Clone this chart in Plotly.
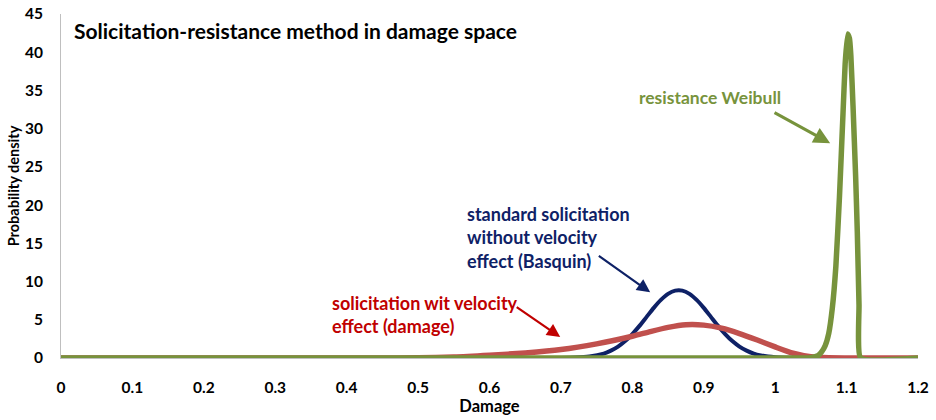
import plotly.graph_objects as go

# Damage axis samples and read-off densities
blue_x = [0.0, 0.68, 0.70, 0.72, 0.74, 0.76, 0.77, 0.78, 0.79, 0.80, 0.81, 0.82, 0.83, 0.84, 0.85,
          0.86, 0.87, 0.88, 0.89, 0.90, 0.91, 0.92, 0.93, 0.94, 0.95, 0.96, 0.97, 0.98, 0.99,
          1.00, 1.02, 1.04, 1.2]
blue_y = [0.0, 0.0, 0.01, 0.05, 0.19, 0.58, 0.96, 1.49, 2.21, 3.13, 4.20, 5.38, 6.56, 7.60, 8.39,
          8.81, 8.81, 8.39, 7.60, 6.56, 5.38, 4.20, 3.13, 2.21, 1.49, 0.96, 0.58, 0.34, 0.19,
          0.10, 0.02, 0.0, 0.0]

red_x = [0.0, 0.45, 0.50, 0.55, 0.60, 0.65, 0.70, 0.75, 0.80, 0.825, 0.85, 0.875, 0.90, 0.925,
         0.95, 0.975, 1.00, 1.025, 1.05, 1.075, 1.10, 1.2]
red_y = [0.0, 0.0, 0.03, 0.12, 0.36, 0.66, 1.1, 1.85, 2.85, 3.45, 4.0, 4.35, 4.3, 3.9,
         3.2, 2.35, 1.45, 0.62, 0.15, 0.02, 0.0, 0.0]

green_x = [0.0, 1.04, 1.05, 1.06, 1.065, 1.07, 1.075, 1.08, 1.085, 1.09, 1.095, 1.098, 1.1015,
           1.104, 1.106, 1.109, 1.1127, 1.115, 1.1174, 1.1197, 1.2]
green_y = [0.0, 0.0, 0.05, 0.3, 0.8, 1.6, 3.2, 6.5, 12.0, 21.0, 32.0, 38.5, 42.4,
           41.8, 39.5, 33.0, 23.7, 16.5, 7.0, 0.0, 0.0]

x_ticks = [0, 0.1, 0.2, 0.3, 0.4, 0.5, 0.6, 0.7, 0.8, 0.9, 1, 1.1, 1.2]
x_tick_text = ["0", "0.1", "0.2", "0.3", "0.4", "0.5", "0.6", "0.7", "0.8", "0.9", "1", "1.1", "1.2"]
y_ticks = [0, 5, 10, 15, 20, 25, 30, 35, 40, 45]

NAVY = "#0E2166"
RED = "#C0504D"
GREEN = "#77933C"
FONT = "Lato"

fig = go.Figure()
fig.add_trace(go.Scatter(x=blue_x, y=blue_y, mode="lines", line=dict(color=NAVY, width=4, shape="spline", smoothing=0.6),
                         name="standard solicitation"))
fig.add_trace(go.Scatter(x=red_x, y=red_y, mode="lines", line=dict(color=RED, width=5.5, shape="spline", smoothing=0.6),
                         name="solicitation with velocity"))
fig.add_trace(go.Scatter(x=green_x, y=green_y, mode="lines", line=dict(color=GREEN, width=5.5, shape="spline", smoothing=0.4),
                         name="resistance Weibull"))

annotations = [
    dict(xref="paper", yref="paper", x=0.0128, y=0.953, xanchor="left", yanchor="middle",
         text="<b>Solicitation-resistance method in damage space</b>", showarrow=False,
         font=dict(family=FONT, size=21, color="#000000")),
    dict(xref="x", yref="y", x=0.806, y=34.1, xanchor="left", yanchor="middle",
         text="<b>resistance Weibull</b>", showarrow=False,
         font=dict(family=FONT, size=17.5, color=GREEN)),
    dict(xref="x", yref="y", x=0.566, y=15.7, xanchor="left", yanchor="middle", align="left",
         text="<b>standard solicitation<br>without velocity<br>effect (Basquin)</b>", showarrow=False,
         font=dict(family=FONT, size=18, color=NAVY)),
    dict(xref="x", yref="y", x=0.377, y=5.7, xanchor="left", yanchor="middle", align="left",
         text="<b>solicitation wit velocity<br>effect (damage)</b>", showarrow=False,
         font=dict(family=FONT, size=18, color="#C00000")),
    # arrows
    dict(xref="x", yref="y", axref="x", ayref="y", x=0.825, y=8.6, ax=0.751, ay=13.5,
         text="", showarrow=True, arrowhead=2, arrowsize=1.2, arrowwidth=2.2, arrowcolor=NAVY),
    dict(xref="x", yref="y", axref="x", ayref="y", x=0.699, y=2.75, ax=0.636, ay=6.8,
         text="", showarrow=True, arrowhead=2, arrowsize=1.2, arrowwidth=2.2, arrowcolor="#C00000"),
    dict(xref="x", yref="y", axref="x", ayref="y", x=1.077, y=28.1, ax=0.997, ay=32.2,
         text="", showarrow=True, arrowhead=2, arrowsize=1.1, arrowwidth=3, arrowcolor=GREEN),
]

fig.update_layout(
    width=936, height=420,
    margin=dict(l=61, r=18, t=14, b=62, autoexpand=False),
    paper_bgcolor="white", plot_bgcolor="white",
    showlegend=False,
    annotations=annotations,
    font=dict(family=FONT, color="#000000"),
)
fig.update_xaxes(range=[0, 1.2], tickvals=x_ticks, ticktext=x_tick_text, showgrid=False, zeroline=False,
                 showline=True, linecolor="#BFBFBF", linewidth=1, ticks="", ticklabelstandoff=15,
                 automargin=False,
                 tickfont=dict(family=FONT, size=15.5, color="#000000", weight="bold"),
                 title=dict(text="<b>Damage</b>", font=dict(family=FONT, size=16.5, color="#000000"), standoff=4))
fig.update_yaxes(range=[0, 45], tickvals=y_ticks, showgrid=False, zeroline=False,
                 showline=True, linecolor="#BFBFBF", linewidth=1, ticks="", ticklabelstandoff=14,
                 automargin=False,
                 tickfont=dict(family=FONT, size=15.5, color="#000000", weight="bold"),
                 title=dict(text="<b>Probability density</b>", font=dict(family=FONT, size=14.5, color="#000000"), standoff=1))

# remove the page's default body margin so the figure sits at the window's top-left corner
fig.write_html("out.html", config={"displayModeBar": False},
               post_script="document.body.style.margin='0';")
